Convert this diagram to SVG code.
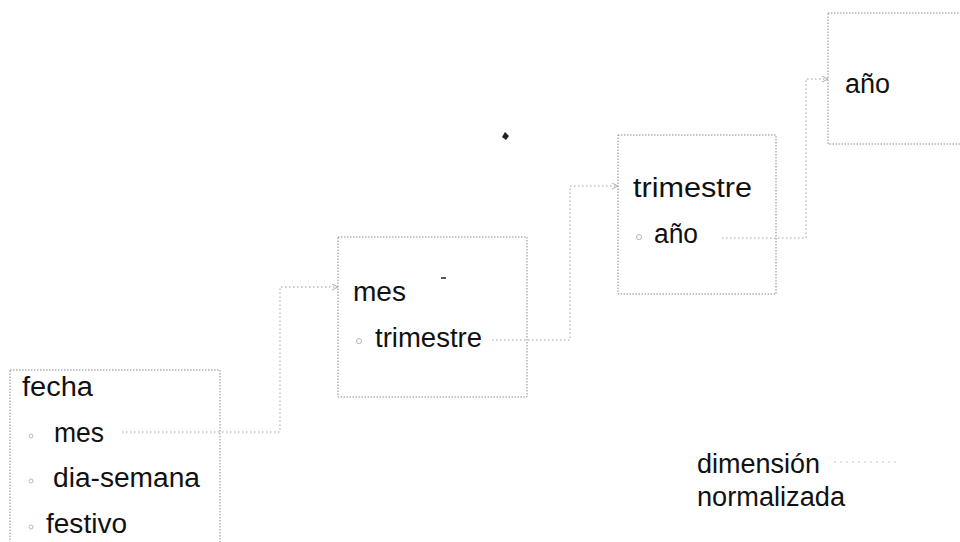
<svg xmlns="http://www.w3.org/2000/svg" width="960" height="542" viewBox="0 0 960 542">
<defs>
<style>
.box{fill:none;stroke:#8a8a8a;stroke-width:1;stroke-dasharray:1.5 1.5}
.conn{fill:none;stroke:#a0a0a0;stroke-width:1;stroke-dasharray:1.5 2.5}
.t{font-family:"Liberation Sans",Arial,sans-serif;font-size:27px;fill:#111}
.mk{fill:none;stroke:#b8b8b8;stroke-width:1}
</style>
<marker id="arr" markerWidth="8" markerHeight="8" refX="6" refY="3" orient="auto" markerUnits="userSpaceOnUse">
<path d="M0,0 L6,3 L0,6" fill="none" stroke="#b0b0b0" stroke-width="1"/>
</marker>
</defs>
<rect width="960" height="542" fill="#fff"/>
<g id="connectors">
<path class="conn" d="M122,432 H280 V287 H338" marker-end="url(#arr)"/>
<path class="conn" d="M492,340 H570 V186 H618" marker-end="url(#arr)"/>
<path class="conn" d="M722,238 H806 V79 H828" marker-end="url(#arr)"/>
</g>
<g id="fecha">
<rect class="box" x="10" y="370" width="210" height="190"/>
<text class="t" x="22" y="396" textLength="71" lengthAdjust="spacingAndGlyphs">fecha</text>
<circle class="mk" cx="31" cy="436" r="2"/>
<text class="t" x="54" y="442" textLength="50" lengthAdjust="spacingAndGlyphs">mes</text>
<circle class="mk" cx="31" cy="481" r="2"/>
<text class="t" x="53" y="487" textLength="147" lengthAdjust="spacingAndGlyphs">dia-semana</text>
<circle class="mk" cx="31" cy="527" r="2"/>
<text class="t" x="46" y="533" textLength="81" lengthAdjust="spacingAndGlyphs">festivo</text>
</g>
<g id="mes">
<rect class="box" x="338" y="237" width="189" height="160"/>
<text class="t" x="353" y="301" textLength="53" lengthAdjust="spacingAndGlyphs">mes</text>
<circle class="mk" cx="359" cy="341" r="2.5"/>
<text class="t" x="375" y="347" textLength="107" lengthAdjust="spacingAndGlyphs">trimestre</text>
</g>
<g id="trimestre">
<rect class="box" x="618" y="135" width="158" height="159"/>
<text class="t" x="633" y="197" textLength="119" lengthAdjust="spacingAndGlyphs">trimestre</text>
<circle class="mk" cx="639" cy="237" r="2.5"/>
<text class="t" x="654" y="243" textLength="44" lengthAdjust="spacingAndGlyphs">año</text>
</g>
<g id="anio">
<rect class="box" x="828" y="13" width="140" height="131"/>
<text class="t" x="845" y="93" textLength="45" lengthAdjust="spacingAndGlyphs">año</text>
</g>
<g id="legend">
<text class="t" x="697" y="473" textLength="123" lengthAdjust="spacingAndGlyphs">dimensión</text>
<text class="t" x="697" y="506" textLength="148" lengthAdjust="spacingAndGlyphs">normalizada</text>
<path d="M834,462 H898" fill="none" stroke="#c8c8c8" stroke-width="1" stroke-dasharray="2 4"/>
</g>
<path d="M502,137 L505,132 L509,136 L506,140 Z" fill="#222"/>
<path d="M441,278 H446" stroke="#222" stroke-width="1.5"/>
</svg>
